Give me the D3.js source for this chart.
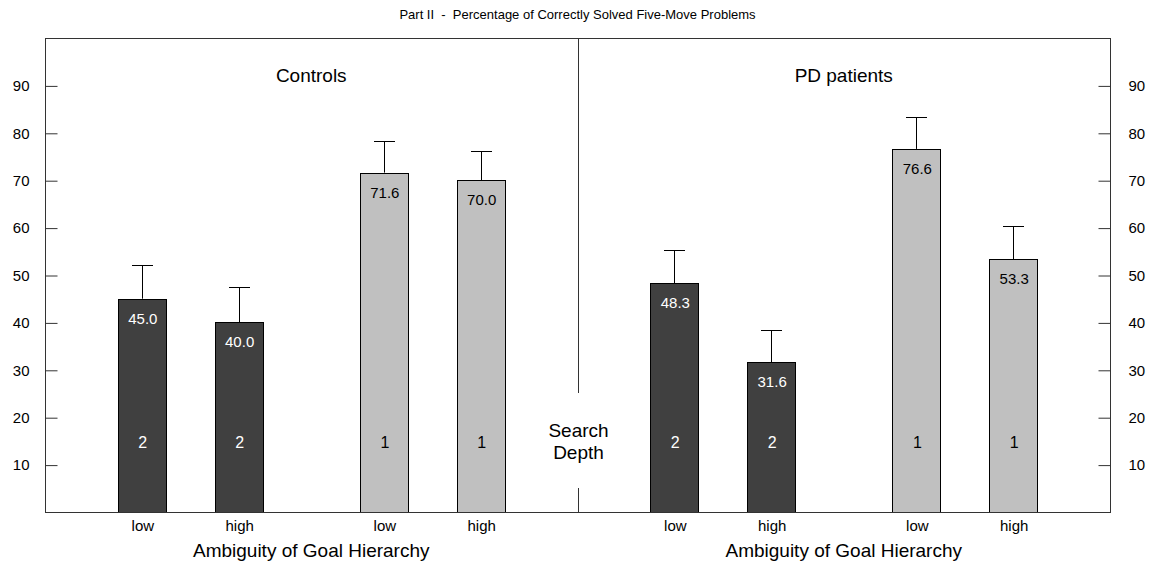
<!DOCTYPE html>
<html>
<head>
<meta charset="utf-8">
<script src="https://cdn.jsdelivr.net/npm/d3@7"></script>
<style>
  body { margin: 0; background: #fff; }
  text { font-family: "Liberation Sans", Arial, sans-serif; fill: #000; }
  .axis .domain { display: none; }
  .axis line { stroke: #333; }
</style>
</head>
<body>
<div id="chart"></div>
<script>
const width = 1156;
const height = 565;
const plotLeft = 45, plotRight = 1110, plotTop = 38, plotBottom = 512;

const chartTitle = "Part II  -  Percentage of Correctly Solved Five-Move Problems";
const groups = ["Controls", "PD patients"];
const ambiguity = ["low", "high", "low", "high"];
const searchDepth = ["2", "2", "1", "1"];
const controlsMeans = [45.0, 40.0, 71.6, 70.0];
const controlsErrTop = [52.2, 47.5, 78.3, 76.1];
const pdMeans = [48.3, 31.6, 76.6, 53.3];
const pdErrTop = [55.3, 38.3, 83.3, 60.4];
const yTicks = [10, 20, 30, 40, 50, 60, 70, 80, 90];

// slot positions inside each half (in units of the x scale)
const slots = [1, 2, 3.5, 4.5];
const halfSpan = 5.5;

const barWidth = 48;
const capWidth = 20;
const darkFill = "#404040";
const lightFill = "#c0c0c0";

let bars = [];
[controlsMeans, pdMeans].forEach((means, g) => {
    const errs = g === 0 ? controlsErrTop : pdErrTop;
    means.forEach((v, i) => {
        bars.push({
            group: g,
            pos: g * halfSpan + slots[i],
            value: v,
            err: errs[i],
            amb: ambiguity[i],
            depth: searchDepth[i]
        });
    });
});

const xScale = d3.scaleLinear().domain([0, halfSpan * 2]).range([plotLeft, plotRight]);
const yScale = d3.scaleLinear().domain([0, 100]).range([plotBottom, plotTop]);

const svg = d3.select("#chart")
    .append("svg")
    .attr("width", width)
    .attr("height", height);

svg.append("text")
    .attr("x", xScale(halfSpan))
    .attr("y", 19)
    .attr("text-anchor", "middle")
    .style("font-size", "13px")
    .style("white-space", "pre")
    .text(chartTitle);

// error bars (behind bars)
const err = svg.append("g").attr("stroke", "#000").attr("stroke-width", 1);
err.selectAll("line.v")
    .data(bars)
    .enter()
    .append("line")
    .attr("x1", d => Math.round(xScale(d.pos)) + 0.5)
    .attr("x2", d => Math.round(xScale(d.pos)) + 0.5)
    .attr("y1", d => yScale(d.value))
    .attr("y2", d => Math.round(yScale(d.err)) + 0.5);
err.selectAll("line.c")
    .data(bars)
    .enter()
    .append("line")
    .attr("x1", d => Math.round(xScale(d.pos)) - capWidth / 2)
    .attr("x2", d => Math.round(xScale(d.pos)) + capWidth / 2 + 1)
    .attr("y1", d => Math.round(yScale(d.err)) + 0.5)
    .attr("y2", d => Math.round(yScale(d.err)) + 0.5);

svg.selectAll("rect.bar")
    .data(bars)
    .enter()
    .append("rect")
    .attr("class", "bar")
    .attr("x", d => Math.round(xScale(d.pos) - barWidth / 2) + 0.5)
    .attr("y", d => Math.round(yScale(d.value)) + 0.5)
    .attr("width", barWidth)
    .attr("height", d => plotBottom - Math.round(yScale(d.value)))
    .attr("fill", d => d.depth === "2" ? darkFill : lightFill)
    .attr("stroke", "#000")
    .attr("stroke-width", 1);

// value labels
svg.selectAll("text.val")
    .data(bars)
    .enter()
    .append("text")
    .attr("x", d => xScale(d.pos) + 1)
    .attr("y", d => yScale(d.value) + 25)
    .attr("text-anchor", "middle")
    .style("font-size", "15px")
    .style("fill", d => d.depth === "2" ? "#fff" : "#000")
    .text(d => d.value.toFixed(1));

// search depth labels
svg.selectAll("text.depth")
    .data(bars)
    .enter()
    .append("text")
    .attr("x", d => xScale(d.pos) + 1)
    .attr("y", 448)
    .attr("text-anchor", "middle")
    .style("font-size", "16px")
    .style("fill", d => d.depth === "2" ? "#fff" : "#000")
    .text(d => d.depth);

// ambiguity labels
svg.selectAll("text.amb")
    .data(bars)
    .enter()
    .append("text")
    .attr("x", d => xScale(d.pos) + 1)
    .attr("y", 531)
    .attr("text-anchor", "middle")
    .style("font-size", "15px")
    .text(d => d.amb);

groups.forEach((g, i) => {
    const cx = xScale(i * halfSpan + halfSpan / 2);
    svg.append("text")
        .attr("x", cx)
        .attr("y", 82)
        .attr("text-anchor", "middle")
        .style("font-size", "19px")
        .text(g);
    svg.append("text")
        .attr("x", cx)
        .attr("y", 557)
        .attr("text-anchor", "middle")
        .style("font-size", "19px")
        .text("Ambiguity of Goal Hierarchy");
});

// frame
svg.append("rect")
    .attr("x", plotLeft + 0.5)
    .attr("y", plotTop + 0.5)
    .attr("width", plotRight - plotLeft)
    .attr("height", plotBottom - plotTop)
    .attr("fill", "none")
    .attr("stroke", "#333");

// divider with gap for the "Search Depth" label
const midX = Math.round(xScale(halfSpan)) + 0.5;
svg.append("line")
    .attr("x1", midX).attr("x2", midX)
    .attr("y1", plotTop).attr("y2", 393)
    .attr("stroke", "#333");
svg.append("line")
    .attr("x1", midX).attr("x2", midX)
    .attr("y1", 488).attr("y2", plotBottom)
    .attr("stroke", "#333");
svg.append("text")
    .attr("x", midX)
    .attr("y", 437)
    .attr("text-anchor", "middle")
    .style("font-size", "19px")
    .text("Search");
svg.append("text")
    .attr("x", midX)
    .attr("y", 459)
    .attr("text-anchor", "middle")
    .style("font-size", "19px")
    .text("Depth");

const yAxisL = d3.axisLeft(yScale).tickValues(yTicks).tickSizeInner(-12).tickSizeOuter(0).tickPadding(16);
svg.append("g")
    .attr("class", "axis")
    .attr("transform", "translate(" + (plotLeft + 0.5) + ",0.5)")
    .call(yAxisL)
    .selectAll("text")
    .style("font-size", "15px")
    .attr("fill", "#000");

const yAxisR = d3.axisRight(yScale).tickValues(yTicks).tickSizeInner(-12).tickSizeOuter(0).tickPadding(18);
svg.append("g")
    .attr("class", "axis")
    .attr("transform", "translate(" + (plotRight + 0.5) + ",0.5)")
    .call(yAxisR)
    .selectAll("text")
    .style("font-size", "15px")
    .attr("fill", "#000");

svg.selectAll(".axis text").attr("font-family", null);
</script>
</body>
</html>
